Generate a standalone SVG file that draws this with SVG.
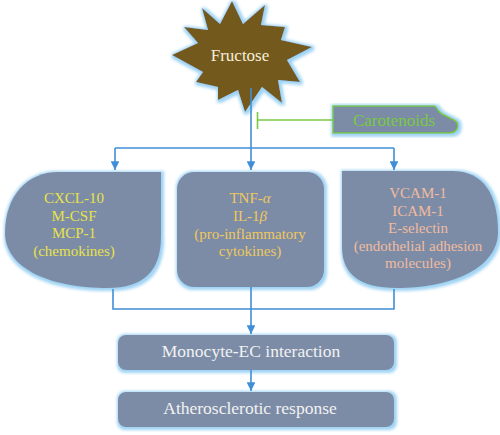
<svg xmlns="http://www.w3.org/2000/svg" width="500" height="435" viewBox="0 0 500 435">
<defs>
<style>
.box{fill:#7b8ca6;filter:url(#glow)}
.t{text-anchor:middle}
.s15{font-size:15px}
.big{font-size:17.5px;fill:#f2f2f2}
.con{fill:none;stroke:#3f8fd6;stroke-width:1.6}
.inh{fill:none;stroke:#7ac943;stroke-width:1.6}
</style>
<filter id="glow" x="-10%" y="-10%" width="125%" height="125%">
<feMorphology in="SourceAlpha" operator="dilate" radius="2" result="d"/>
<feOffset in="d" dx="1" dy="1" result="o"/>
<feGaussianBlur in="o" stdDeviation="1.5" result="b"/>
<feFlood flood-color="#9fd3f4"/>
<feComposite in2="b" operator="in" result="g"/>
<feMerge><feMergeNode in="g"/><feMergeNode in="SourceGraphic"/></feMerge>
</filter>
<marker id="arr" viewBox="0 0 10 10" refX="10" refY="5" markerWidth="5.5" markerHeight="5.5" markerUnits="strokeWidth" orient="auto">
<path d="M0,0 L10,5 L0,10 Z" fill="#3f8fd6"/>
</marker>
</defs>

<g id="fructose">
<path d="M232,1 L243,24 L265,5 L261,25 L285,27 L281,40 L312,47 L287,60 L300,82 L278,80 L282,103 L262,87 L245,112 L238,90 L218,100 L218,87 L196,82 L203,72 L172,55 L198,43 L184,27 L208,30 L202,8 L220,24 Z" fill="#735a1f" filter="url(#glow)"/>
<text class="t" x="240" y="61" font-family="'Liberation Serif','DejaVu Serif',serif" font-size="17" fill="#f6eedb">Fructose</text>
</g>

<g id="carotenoids">
<path d="M333,106 H434 C437,106 437,111 442,114 L454,120 C460,123 459,132 450,133 H333 Z" fill="#7b8ca6" stroke="#7ac943" stroke-width="1.5" filter="url(#glow)"/>
<text class="t" x="394" y="126" font-family="'Liberation Serif','DejaVu Serif',serif" font-size="17" fill="#7ac943">Carotenoids</text>
</g>

<g id="chemokines">
<path class="box" d="M161,172 V237 Q161,288 108,288 C45,288 5,266 5,233 C5,195 28,172 58,172 Z"/>
<text class="t s15" font-family="'Liberation Serif','DejaVu Serif',serif" fill="#e8e24a"><tspan x="74" y="203">CXCL-10</tspan><tspan x="74" y="221">M-CSF</tspan><tspan x="74" y="238">MCP-1</tspan><tspan x="74" y="256">(chemokines)</tspan></text>
</g>

<g id="cytokines">
<rect class="box" x="177" y="172" width="147" height="115" rx="17"/>
<text class="t s15" font-family="'Liberation Serif','DejaVu Serif',serif" fill="#f0c85e"><tspan x="250" y="203">TNF-<tspan font-style="italic">α</tspan></tspan><tspan x="250" y="221">IL-1<tspan font-style="italic">β</tspan></tspan><tspan x="250" y="239">(pro-inflammatory</tspan><tspan x="250" y="256">cytokines)</tspan></text>
</g>

<g id="adhesion">
<path class="box" d="M342,171 V247 Q342,288 396,288 C456,288 498,266 498,232 C498,195 484,171 452,171 Z"/>
<text class="t s15" font-family="'Liberation Serif','DejaVu Serif',serif" fill="#f0bba0"><tspan x="418" y="198">VCAM-1</tspan><tspan x="418" y="216">ICAM-1</tspan><tspan x="418" y="233">E-selectin</tspan><tspan x="418" y="251">(endothelial adhesion</tspan><tspan x="418" y="268">molecules)</tspan></text>
</g>

<g id="monocyte">
<rect class="box" x="118" y="335" width="276" height="35" rx="8"/>
<text class="t big" x="251" y="357" font-family="'Liberation Serif','DejaVu Serif',serif">Monocyte-EC interaction</text>
</g>

<g id="atherosclerotic">
<rect class="box" x="118" y="392" width="276" height="35" rx="8"/>
<text class="t big" x="250" y="414" font-family="'Liberation Serif','DejaVu Serif',serif">Atherosclerotic response</text>
</g>

<g id="connectors">
<path class="con" d="M251,88 V148"/>
<path class="con" d="M115,148 H394"/>
<path class="con" d="M115,148 V170" marker-end="url(#arr)"/>
<path class="con" d="M251,148 V170" marker-end="url(#arr)"/>
<path class="con" d="M394,148 V170" marker-end="url(#arr)"/>
<path class="con" d="M113,289 V309 H394 V289"/>
<path class="con" d="M251,287 V334" marker-end="url(#arr)"/>
<path class="con" d="M251,370 V391" marker-end="url(#arr)"/>
<path class="inh" d="M333,120 H257.5 M257.5,112 V129"/>
</g>
</svg>
